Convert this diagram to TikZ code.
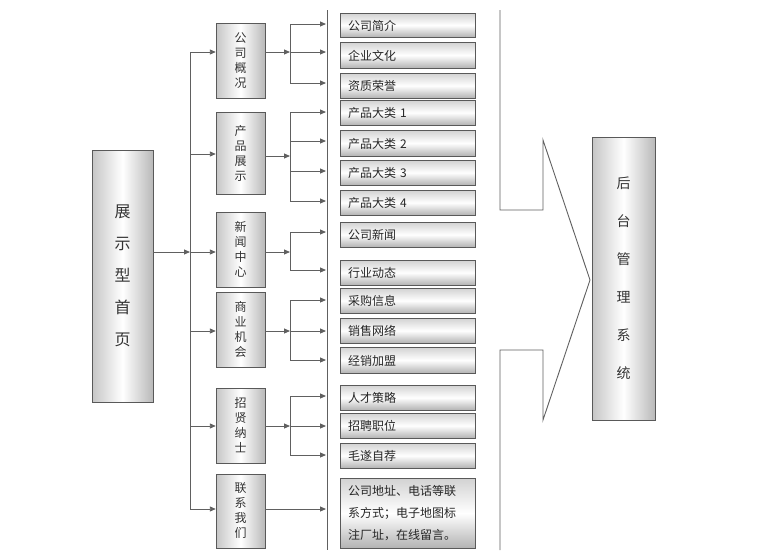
\documentclass[tikz,border=0pt]{standalone}
\usepackage{fontspec}
\setmainfont{Noto Sans CJK SC}
\usetikzlibrary{arrows.meta}
\begin{document}
\begin{tikzpicture}[x=1pt,y=-1pt,
  ln/.style={draw=gray!75!black,line width=0.9pt},
  ar/.style={ln,-{Triangle[length=6pt,width=5pt]}},
  vbox/.style={draw=gray!70!black,left color=gray!45,right color=gray!55,middle color=white,inner sep=0pt,align=center,font=\fontsize{12}{15}\selectfont,text=black!80},
  hbox/.style={draw=gray!70!black,top color=gray!35,bottom color=gray!60,middle color=white,inner sep=0pt,anchor=north west,text width=135pt,align=left,font=\fontsize{12}{14}\selectfont,text=black!85}]
\useasboundingbox[fill=white] (0,0) rectangle (769,560);
% main boxes
\node[vbox,minimum width=61pt,minimum height=252pt,font=\fontsize{16}{32}\selectfont] (m) at (122.5,276) {展\\示\\型\\首\\页};
\node[vbox,minimum width=63pt,minimum height=283pt,font=\fontsize{14}{38}\selectfont] (h) at (623.5,278.5) {后\\台\\管\\理\\系\\统};
% level 2
\node[vbox,minimum width=49pt,minimum height=75pt] (a) at (240.5,60.5) {公\\司\\概\\况};
\node[vbox,minimum width=49pt,minimum height=82pt] (b) at (240.5,153) {产\\品\\展\\示};
\node[vbox,minimum width=49pt,minimum height=75pt] (c) at (240.5,249.5) {新\\闻\\中\\心};
\node[vbox,minimum width=49pt,minimum height=75pt] (d) at (240.5,329.5) {商\\业\\机\\会};
\node[vbox,minimum width=49pt,minimum height=75pt] (e) at (240.5,425.5) {招\\贤\\纳\\士};
\node[vbox,minimum width=49pt,minimum height=74pt] (f) at (240.5,511) {联\\系\\我\\们};
% right items
\foreach \n/\y/\hh/\t in {r1/13/24/公司简介, r2/42/26/企业文化, r3/73/25/资质荣誉, r4/100/25/产品大类 1, r5/130/26/产品大类 2, r6/160/25/产品大类 3, r7/190/25/产品大类 4, r8/222/25/公司新闻, r9/260/25/行业动态, r10/288/25/采购信息, r11/318/25/销售网络, r12/347/26/经销加盟, r13/385/25/人才策略, r14/413/25/招聘职位, r15/443/25/毛遂自荐}
  \node[hbox,minimum height=\hh pt,text depth=0pt] (\n) at (340,\y) {\hspace{8pt}\t};
\node[hbox,minimum height=70pt,align=left,font=\fontsize{12}{22}\selectfont] (r16) at (340,478) {\hspace{8pt}公司地址、电话等联\\\hspace{8pt}系方式；电子地图标\\\hspace{8pt}注厂址，在线留言。};
% vertical separator
\coordinate (s1) at (327,10); \coordinate (s2) at (327,550);
\draw[ln] (s1) -- (s2);
% main to bus
\coordinate (b0) at (190,252);
\draw[ar] (m.east |- b0) -- (b0);
\coordinate (bt) at (190,52); \coordinate (bb) at (190,509);
\draw[ln] (bt) -- (bb);
\foreach \n/\y in {a/52,b/154,c/252,d/331,e/426,f/509}
  \draw[ar] (190,\y) -- (\n.west |- 0,\y);
% sub buses
\foreach \n/\o/\t/\bo/\lst in {a/52/24/83/{24,52,83}, b/156/112/201/{112,141,171,201}, c/252/232/270/{232,270}, d/331/300/360/{300,331,360}, e/426/396/455/{396,426,455}}{
  \draw[ar] (\n.east |- 0,\o) -- (290,\o);
  \draw[ln] (290,\t) -- (290,\bo);
  \foreach \yy in \lst \draw[ar] (290,\yy) -- (326,\yy);
}
\draw[ar] (f.east |- 0,509) -- (326,509);
% big arrow outline
\draw[ln,line join=miter] (500,10) -- (500,210) -- (543,210) -- (543,140) -- (590,280) -- (543,420) -- (543,350) -- (500,350) -- (500,550);
\end{tikzpicture}
\end{document}
